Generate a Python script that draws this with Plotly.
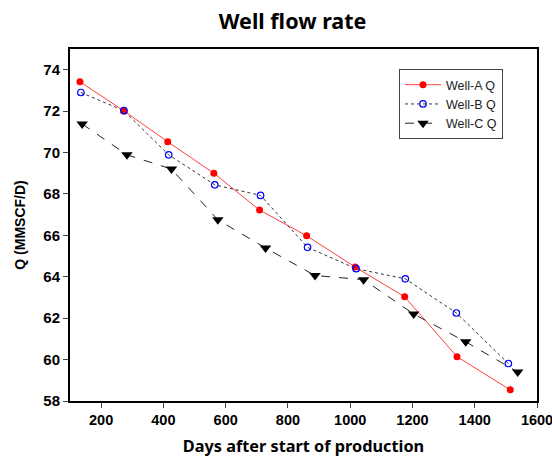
import plotly.graph_objects as go

# Production days and gas flow rate (MMSCF/D) for each well
days_a = [132, 274, 414, 562, 709, 860, 1016, 1175, 1343, 1514]
q_a = [73.42, 72.0, 70.52, 69.0, 67.22, 65.98, 64.47, 63.03, 60.14, 58.54]

days_b = [135, 273, 417, 565, 712, 863, 1019, 1177, 1341, 1508]
q_b = [72.9, 72.02, 69.89, 68.44, 67.93, 65.42, 64.39, 63.9, 62.25, 59.81]

days_c = [139, 283, 426, 575, 728, 887, 1043, 1204, 1371, 1538]
q_c = [71.38, 69.89, 69.2, 66.75, 65.39, 64.06, 63.86, 62.2, 60.86, 59.4]

x_ticks = [200, 400, 600, 800, 1000, 1200, 1400, 1600]
y_ticks = [58, 60, 62, 64, 66, 68, 70, 72, 74]

fig = go.Figure()
fig.add_trace(go.Scatter(
    x=days_a, y=q_a, name="Well-A Q", mode="lines+markers",
    line=dict(color="#ff4040", width=1),
    marker=dict(symbol="circle", size=7, color="#ff0000"),
))
fig.add_trace(go.Scatter(
    x=days_b, y=q_b, name="Well-B Q", mode="lines+markers",
    line=dict(color="#333333", width=1, dash="dot"),
    marker=dict(symbol="circle-open", size=6.5, color="#0000ff", line=dict(width=1.2)),
))
fig.add_trace(go.Scatter(
    x=days_c, y=q_c, name="Well-C Q", mode="lines+markers",
    line=dict(color="#222222", width=1, dash="dash"),
    marker=dict(symbol="triangle-down", size=10, color="#000000"),
))

fig.update_layout(
    width=552, height=457,
    margin=dict(l=70, r=15, t=49, b=56),
    paper_bgcolor="white", plot_bgcolor="white",
    title=dict(text="<b>Well flow rate</b>", x=0.53, xanchor="center",
               y=0.953, yanchor="middle",
               font=dict(family="Noto Sans", size=21.5, color="black")),
    font=dict(family="Liberation Sans, Arial", color="black"),
    legend=dict(x=0.7045, y=0.943, xanchor="left", yanchor="top",
                bordercolor="#444444", borderwidth=1, bgcolor="white",
                font=dict(size=12.5, color="#222222"), tracegroupgap=0,
                itemwidth=36),
    showlegend=True,
)
fig.update_xaxes(
    range=[100, 1600], tickvals=x_ticks,
    ticktext=[f"<b>{v}</b>" for v in x_ticks],
    tickfont=dict(size=14.5), ticks="outside", ticklen=5, tickwidth=1,
    ticklabeloverflow="allow", automargin=False,
    showline=True, linecolor="black", linewidth=2, mirror=True,
    showgrid=False, zeroline=False,
    title=dict(text="<b>Days after start of production</b>",
               font=dict(family="Noto Sans", size=16.3), standoff=16),
)
fig.update_yaxes(
    range=[58, 75], tickvals=y_ticks,
    ticktext=[f"<b>{v}</b>" for v in y_ticks],
    tickfont=dict(size=15), ticks="outside", ticklen=5, tickwidth=1,
    ticklabeloverflow="allow", automargin=False,
    showline=True, linecolor="black", linewidth=2, mirror=True,
    showgrid=False, zeroline=False,
    title=dict(text="<b>Q (MMSCF/D)</b>", font=dict(size=14), standoff=14),
)

fig.write_html("out.html")
